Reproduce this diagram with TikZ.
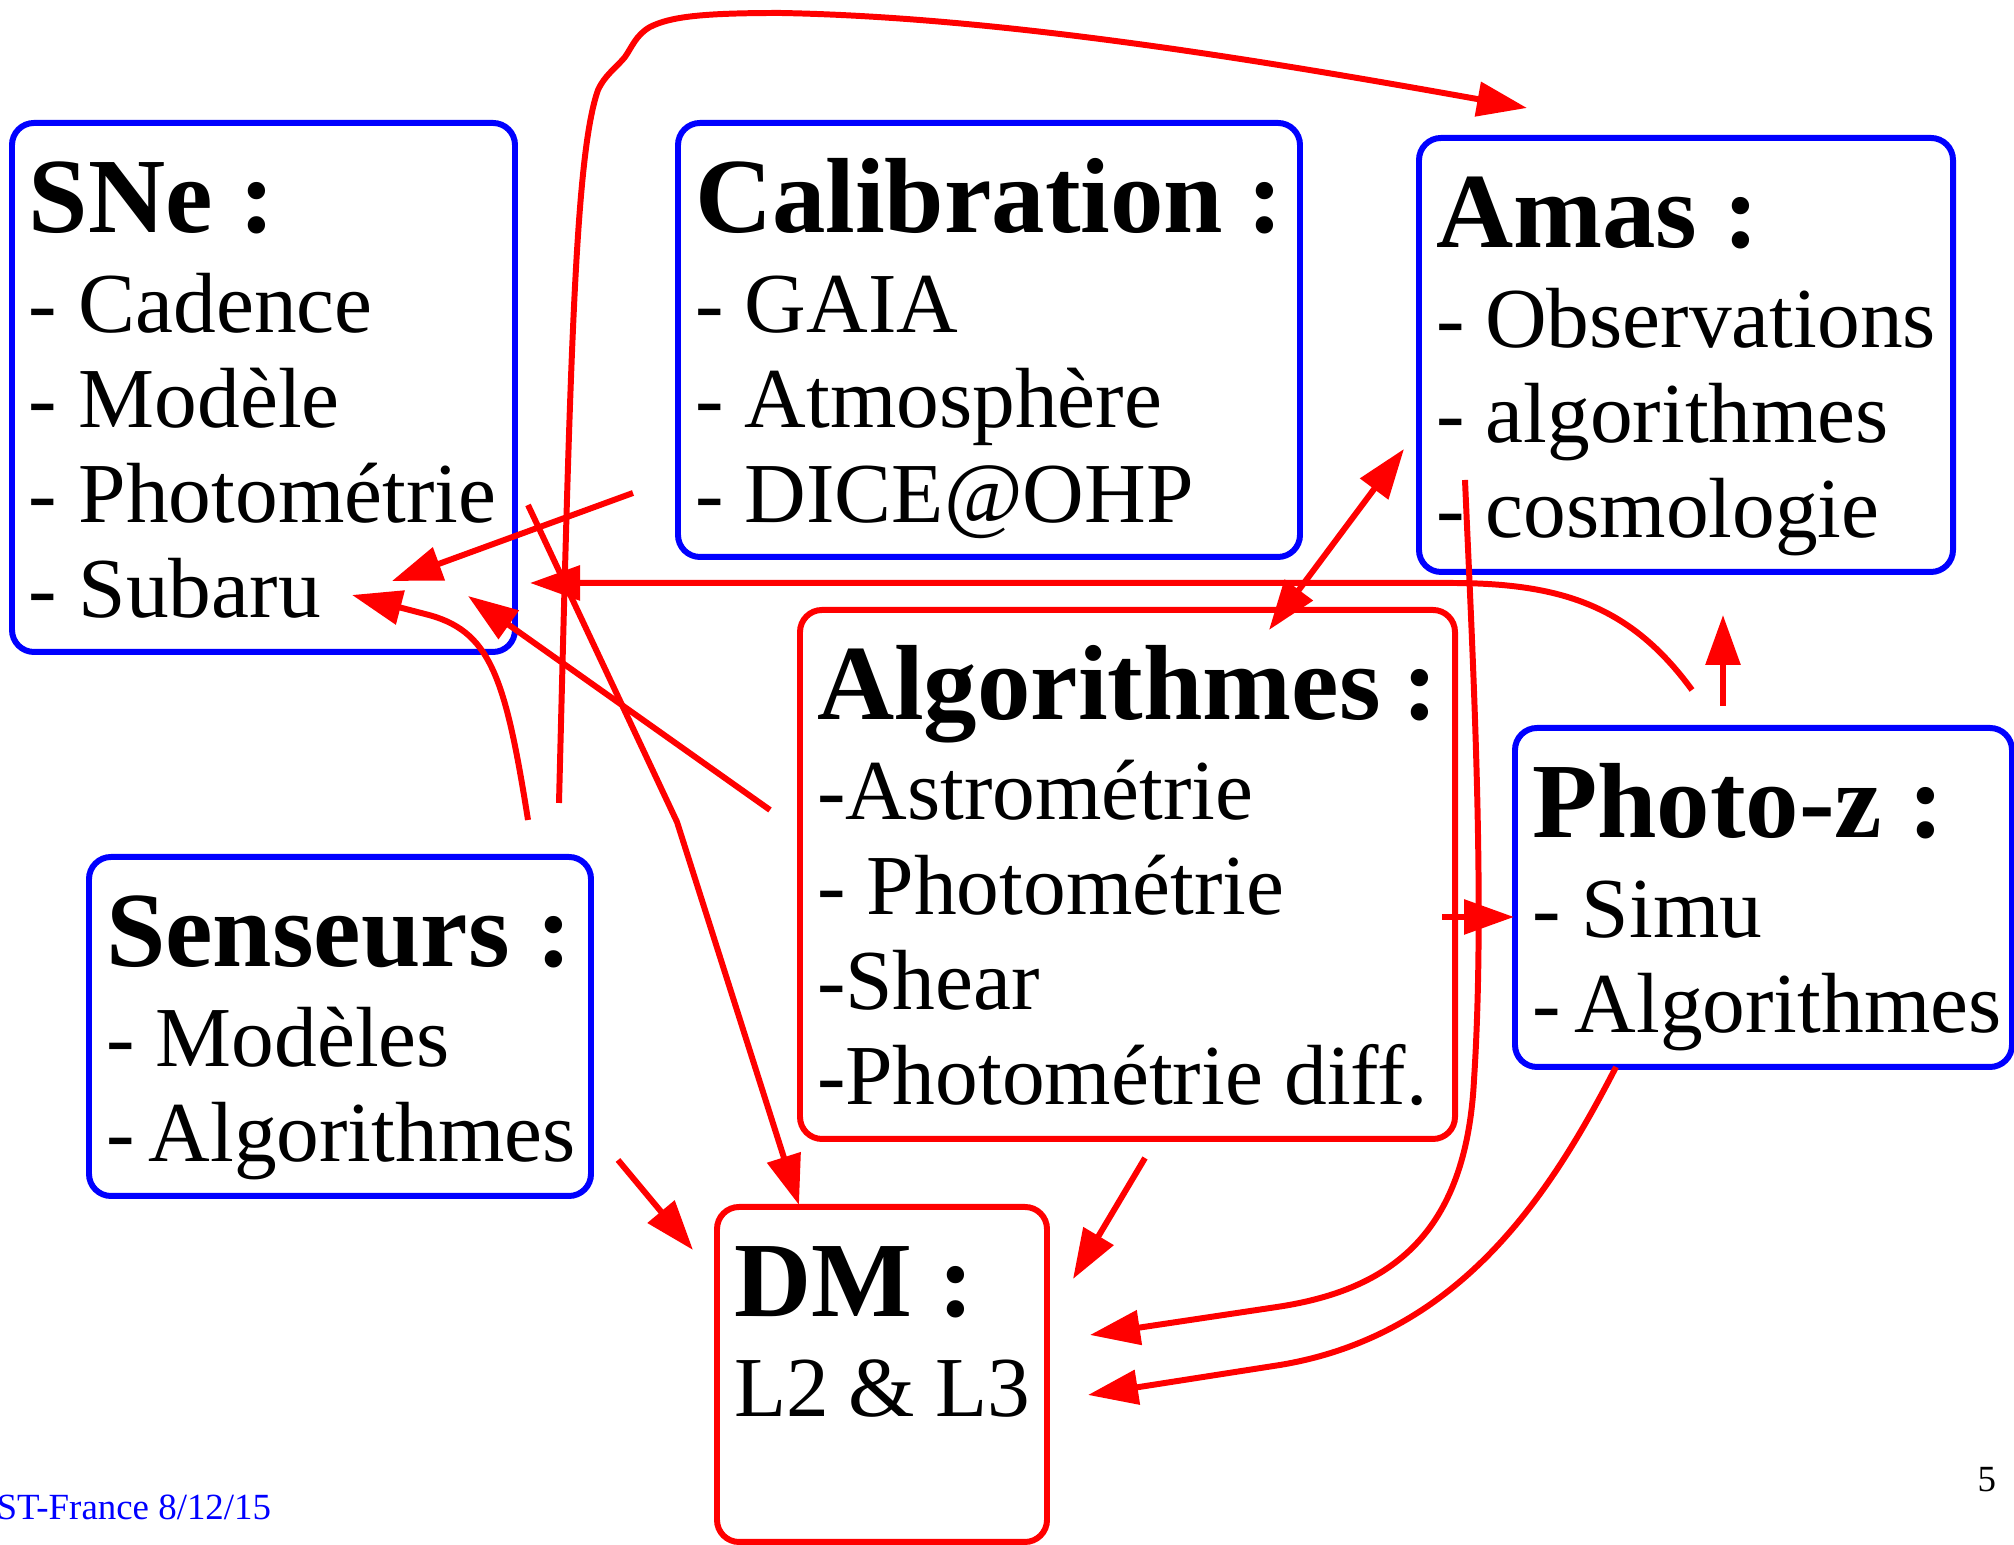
\documentclass[tikz,border=0pt]{standalone}
\usepackage{fontspec}
\setmainfont{Liberation Serif}
\usetikzlibrary{arrows.meta}

\newcommand{\panelfont}{\fontsize{24.3}{27.03}\selectfont\hyphenpenalty=10000\relax\exhyphenpenalty=10000\relax}
\newcommand{\paneltitle}[1]{\rule{0pt}{1.1cm}{\fontsize{30.4}{30}\selectfont\bfseries #1}\\[0.05cm]}
\newcommand{\panelend}[1][0.34cm]{\rule[-#1]{0pt}{#1}}

\tikzset{
  panel/.style={draw,line width=1.7pt,rounded corners=0.22cm,anchor=north west,
    inner xsep=0.17cm,inner ysep=0pt,outer sep=0pt,align=flush left,font=\panelfont},
  bluepanel/.style={panel,draw=blue},
  redpanel/.style={panel,draw=red},
  link/.style={red,line width=1.7pt},
}

\begin{document}
\begin{tikzpicture}[>={Triangle[length=5mm,width=3.4mm]}]
\useasboundingbox (0,0) rectangle (20.14,15.45);
\node[bluepanel,text width=4.69cm] (sne) at (0.12,14.22) {\paneltitle{SNe~:}-~Cadence\\-~Modèle\\-~Photométrie\\-~Subaru\panelend};
\node[bluepanel,text width=5.88cm] (calib) at (6.78,14.22) {\paneltitle{Calibration~:}-~GAIA\\-~Atmosphère\\-~DICE@OHP\panelend};
\node[bluepanel,text width=5.00cm] (amas) at (14.19,14.07) {\paneltitle{Amas~:}-~Observations\\-~algorithmes\\-~cosmologie\panelend};
\node[redpanel,text width=6.21cm] (algo) at (8.00,9.35) {\paneltitle{Algorithmes~:}-Astrométrie\\-~Photométrie\\-Shear\\-Photométrie~diff.\panelend};
\node[bluepanel,text width=4.63cm] (photoz) at (15.15,8.17) {\paneltitle{Photo-z~:}-~Simu\\-~Algorithmes\panelend};
\node[bluepanel,text width=4.68cm] (sens) at (0.89,6.88) {\paneltitle{Senseurs~:}-~Modèles\\-~Algorithmes\panelend};
\node[redpanel,text width=2.96cm] (dm) at (7.17,3.38) {\paneltitle{DM~:}L2~\&~L3\panelend[1.25cm]};

\node[anchor=base west,inner sep=0pt,text=blue,font=\fontsize{10.5}{12}\selectfont] (footer) at (-0.04,0.25) {ST-France 8/12/15};
\node[anchor=base west,inner sep=0pt,font=\fontsize{10.5}{12}\selectfont] (page) at (19.77,0.53) {5};

\coordinate (arcfoot) at (5.59,7.42);
\coordinate (amastop) at (15.27,14.37);
\coordinate (calibout) at (6.33,10.52);
\coordinate (subaruA) at (3.92,9.64);
\coordinate (algoout) at (7.70,7.35);
\coordinate (subaruB) at (4.68,9.49);
\coordinate (sensout) at (5.28,7.25);
\coordinate (subaruC) at (3.52,9.50);
\coordinate (sneout) at (5.28,10.40);
\coordinate (bend) at (6.77,7.23);
\coordinate (dmtop) at (7.99,3.40);
\coordinate (photozout) at (16.92,8.55);
\coordinate (sneright) at (5.30,9.62);
\coordinate (photozup) at (17.23,8.39);
\coordinate (amasbottom) at (17.23,9.30);
\coordinate (algotop) at (12.69,9.15);
\coordinate (amasleft) at (14.04,10.96);
\coordinate (amasout) at (14.65,10.65);
\coordinate (dmrightA) at (10.90,2.10);
\coordinate (photozdown) at (16.16,4.78);
\coordinate (dmrightB) at (10.88,1.50);
\coordinate (sensdown) at (6.18,3.85);
\coordinate (dmleft) at (6.93,2.95);
\coordinate (algodown) at (11.45,3.87);
\coordinate (dmcorner) at (10.73,2.66);
\coordinate (algoright) at (14.42,6.28);
\coordinate (photozleft) at (15.14,6.28);

\draw[link,->] (arcfoot) .. controls (5.70,11.8) and (5.75,13.9) .. (5.98,14.55)
  .. controls (6.05,14.70) and (6.15,14.76) .. (6.25,14.88)
  .. controls (6.32,14.98) and (6.36,15.10) .. (6.50,15.18)
  .. controls (6.70,15.28) and (7.00,15.32) .. (7.80,15.32)
  .. controls (10.0,15.28) and (12.6,14.85) .. (amastop);
\draw[link,->] (calibout) -- (subaruA);
\draw[link,->] (algoout) -- (subaruB);
\draw[link,->] (sensout) .. controls (5.05,8.7) and (4.9,9.15) .. (4.25,9.31) -- (subaruC);
\draw[link,->] (sneout) -- (bend) -- (dmtop);
\draw[link,->] (photozout) .. controls (16.3,9.4) and (15.6,9.62) .. (14.5,9.62) -- (sneright);
\draw[link,->] (photozup) -- (amasbottom);
\draw[link,<->] (algotop) -- (amasleft);
\draw[link,->] (amasout) .. controls (14.72,9.0) and (14.86,6.5) .. (14.74,4.65)
  .. controls (14.66,3.1) and (13.9,2.55) .. (12.77,2.38) -- (dmrightA);
\draw[link,->] (photozdown) .. controls (15.5,3.5) and (14.6,2.1) .. (12.8,1.80) -- (dmrightB);
\draw[link,->] (sensdown) -- (dmleft);
\draw[link,->] (algodown) -- (dmcorner);
\draw[link,->] (algoright) -- (photozleft);
\end{tikzpicture}
\end{document}
